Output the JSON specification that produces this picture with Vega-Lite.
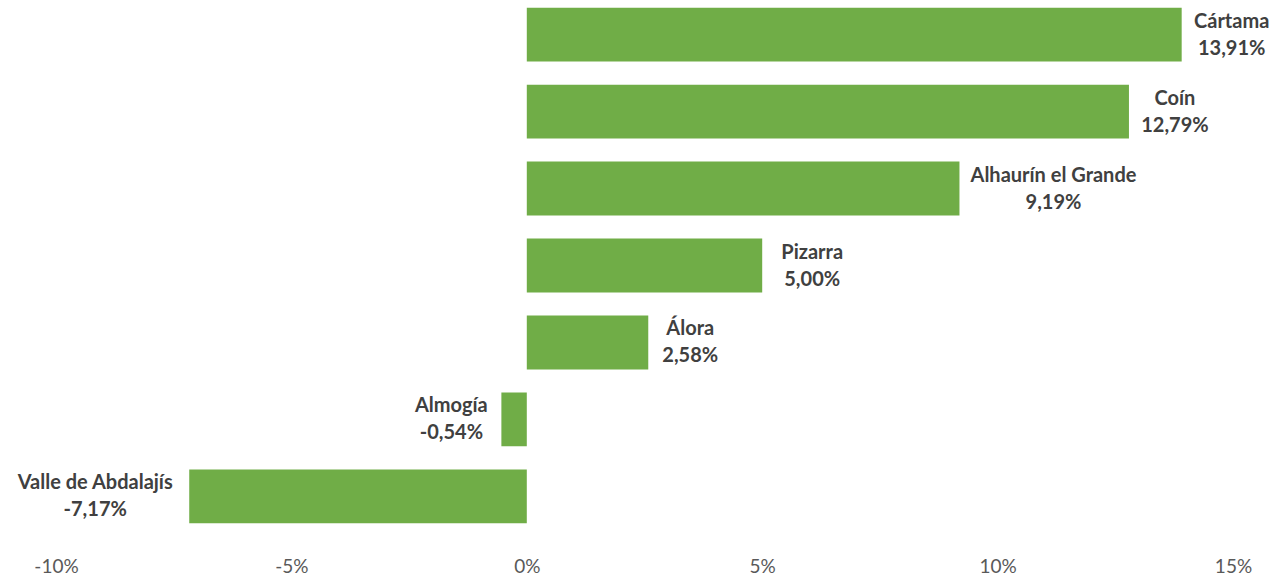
{
  "$schema": "https://vega.github.io/schema/vega-lite/v6.json",
  "width": 1177,
  "height": 531,
  "autosize": {"type": "none"},
  "padding": {"left": 56, "right": 54, "top": 0, "bottom": 46},
  "background": "white",
  "config": {"view": {"stroke": null}, "font": "Lato"},
  "data": {
    "values": [
      {"name": "Cártama", "value": 13.91, "label": "13,91%"},
      {"name": "Coín", "value": 12.79, "label": "12,79%"},
      {"name": "Alhaurín el Grande", "value": 9.19, "label": "9,19%"},
      {"name": "Pizarra", "value": 5.00, "label": "5,00%"},
      {"name": "Álora", "value": 2.58, "label": "2,58%"},
      {"name": "Almogía", "value": -0.54, "label": "-0,54%"},
      {"name": "Valle de Abdalajís", "value": -7.17, "label": "-7,17%"}
    ]
  },
  "transform": [
    {"calculate": "max(length(datum.name), length(datum.label))", "as": "len"},
    {"calculate": "datum.value + (datum.value >= 0 ? 1 : -1) * (22 + 4.0 * datum.len) / 47.08", "as": "tx"},
    {"calculate": "[datum.name, datum.label]", "as": "lines"}
  ],
  "encoding": {
    "y": {
      "field": "name",
      "type": "nominal",
      "sort": null,
      "axis": null,
      "scale": {"paddingInner": 0.3, "paddingOuter": 0.1}
    }
  },
  "layer": [
    {
      "mark": {"type": "bar", "color": "#70AD47"},
      "encoding": {
        "x": {
          "field": "value",
          "type": "quantitative",
          "scale": {"domain": [-10, 15], "nice": false, "zero": false},
          "axis": {
            "values": [-10, -5, 0, 5, 10, 15],
            "labelExpr": "datum.value + '%'",
            "grid": false,
            "domain": false,
            "ticks": false,
            "labelPadding": 26,
            "labelFontSize": 19,
            "labelColor": "#595959",
            "labelFont": "Lato",
            "labelFlush": false,
            "labelOverlap": false,
            "title": null
          }
        }
      }
    },
    {
      "mark": {
        "type": "text",
        "fontSize": 20,
        "fontWeight": "bold",
        "color": "#404040",
        "lineHeight": 27,
        "align": "center",
        "baseline": "middle",
        "dy": -13
      },
      "encoding": {
        "x": {"field": "tx", "type": "quantitative"},
        "text": {"field": "lines"}
      }
    }
  ]
}
